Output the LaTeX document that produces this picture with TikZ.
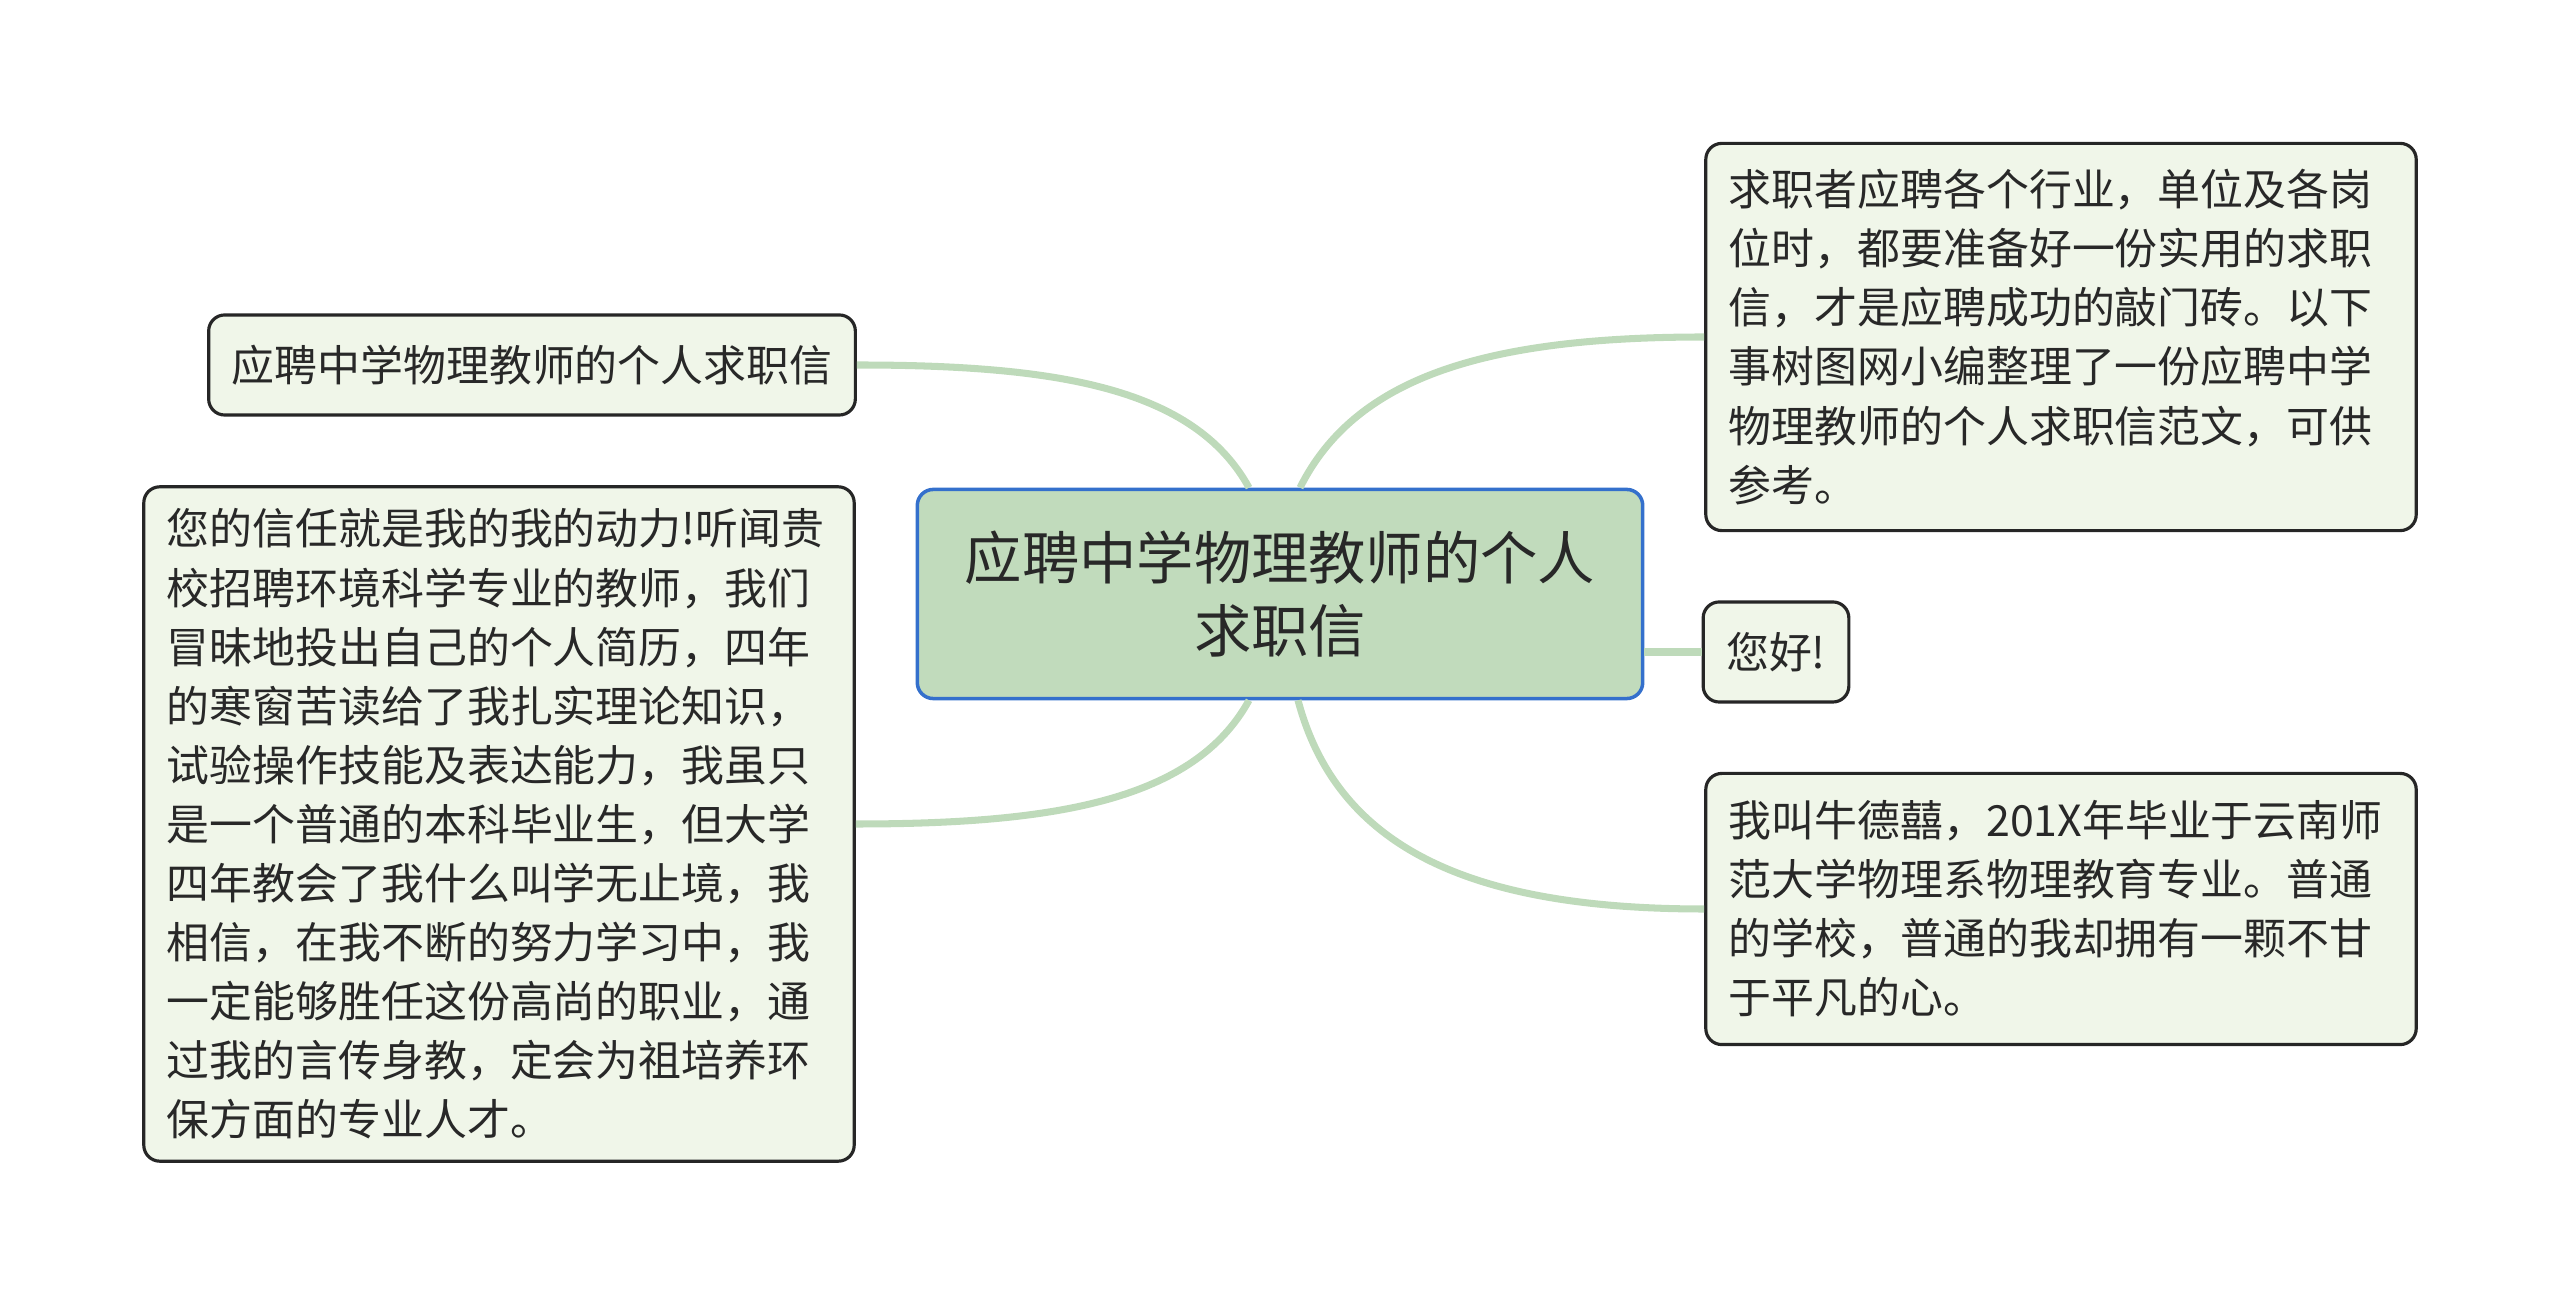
\documentclass[tikz,border=0pt]{standalone}
\usepackage{fontspec}
\newfontfamily\cjkfont{Noto Sans CJK SC}
\usepackage{tikz}
\usetikzlibrary{calc}
\definecolor{linkgreen}{RGB}{190,218,186}
\definecolor{rootfill}{RGB}{193,219,188}
\definecolor{rootline}{RGB}{52,112,204}
\definecolor{leaffill}{RGB}{240,246,233}
\definecolor{inkgray}{RGB}{40,40,40}

\begin{document}
\begin{tikzpicture}[x=0.01cm, y=-0.01cm, font=\cjkfont,
  leaf/.style={draw=black!85, line width=0.9pt, rounded corners=0.16cm, fill=leaffill, text=inkgray, inner xsep=0.23cm, inner ysep=0pt, align=left, font=\cjkfont\fontsize{12.2pt}{16.8pt}\selectfont},
  root/.style={draw=rootline, line width=1pt, rounded corners=0.16cm, fill=rootfill, text=inkgray, align=center, minimum width=7.25cm, minimum height=2.09cm, font=\cjkfont\fontsize{16.3pt}{21pt}\selectfont},
  link/.style={draw=linkgreen, line width=2pt}]
\useasboundingbox (0,0) rectangle (2560,1304);

% centre and branches
\node[root] (root) at (1280,594) {应聘中学物理教师的个人\\求职信};
\node[leaf, minimum width=6.43cm, minimum height=1cm, align=center] (title) at (532,365) {应聘中学物理教师的个人求职信};
\node[leaf, text width=6.64cm, minimum height=6.74cm] (letter) at (499,824) {您的信任就是我的我的动力!听闻贵\\校招聘环境科学专业的教师，我们\\冒昧地投出自己的个人简历，四年\\的寒窗苦读给了我扎实理论知识，\\试验操作技能及表达能力，我虽只\\是一个普通的本科毕业生，但大学\\四年教会了我什么叫学无止境，我\\相信，在我不断的努力学习中，我\\一定能够胜任这份高尚的职业，通\\过我的言传身教，定会为祖培养环\\保方面的专业人才。};
\node[leaf, text width=6.64cm, minimum height=3.87cm] (intro) at (2061,337) {求职者应聘各个行业，单位及各岗\\位时，都要准备好一份实用的求职\\信，才是应聘成功的敲门砖。以下\\事树图网小编整理了一份应聘中学\\物理教师的个人求职信范文，可供\\参考。};
\node[leaf, minimum width=1.41cm, minimum height=1cm, align=center] (hello) at (1776,652) {您好!};
\node[leaf, text width=6.64cm, minimum height=2.71cm] (self) at (2061,909) {我叫牛德囍，201X年毕业于云南师\\范大学物理系物理教育专业。普通\\的学校，普通的我却拥有一颗不甘\\于平凡的心。};

% connectors
\draw[link] ($(root.north)+(-31,0)$) .. controls +(-55,-100) and +(200,0) .. (title.east);
\draw[link] ($(root.north)+(20,0)$) .. controls +(55,-110) and +(-220,0) .. (intro.west);
\draw[link] ($(root.south)+(-31,0)$) .. controls +(-55,100) and +(200,0) .. (letter.east);
\draw[link] ($(root.south)+(18,0)$) .. controls +(40,150) and +(-230,0) .. (self.west);
\draw[link] (root.east |- hello.west) -- (hello.west);
\end{tikzpicture}
\end{document}
